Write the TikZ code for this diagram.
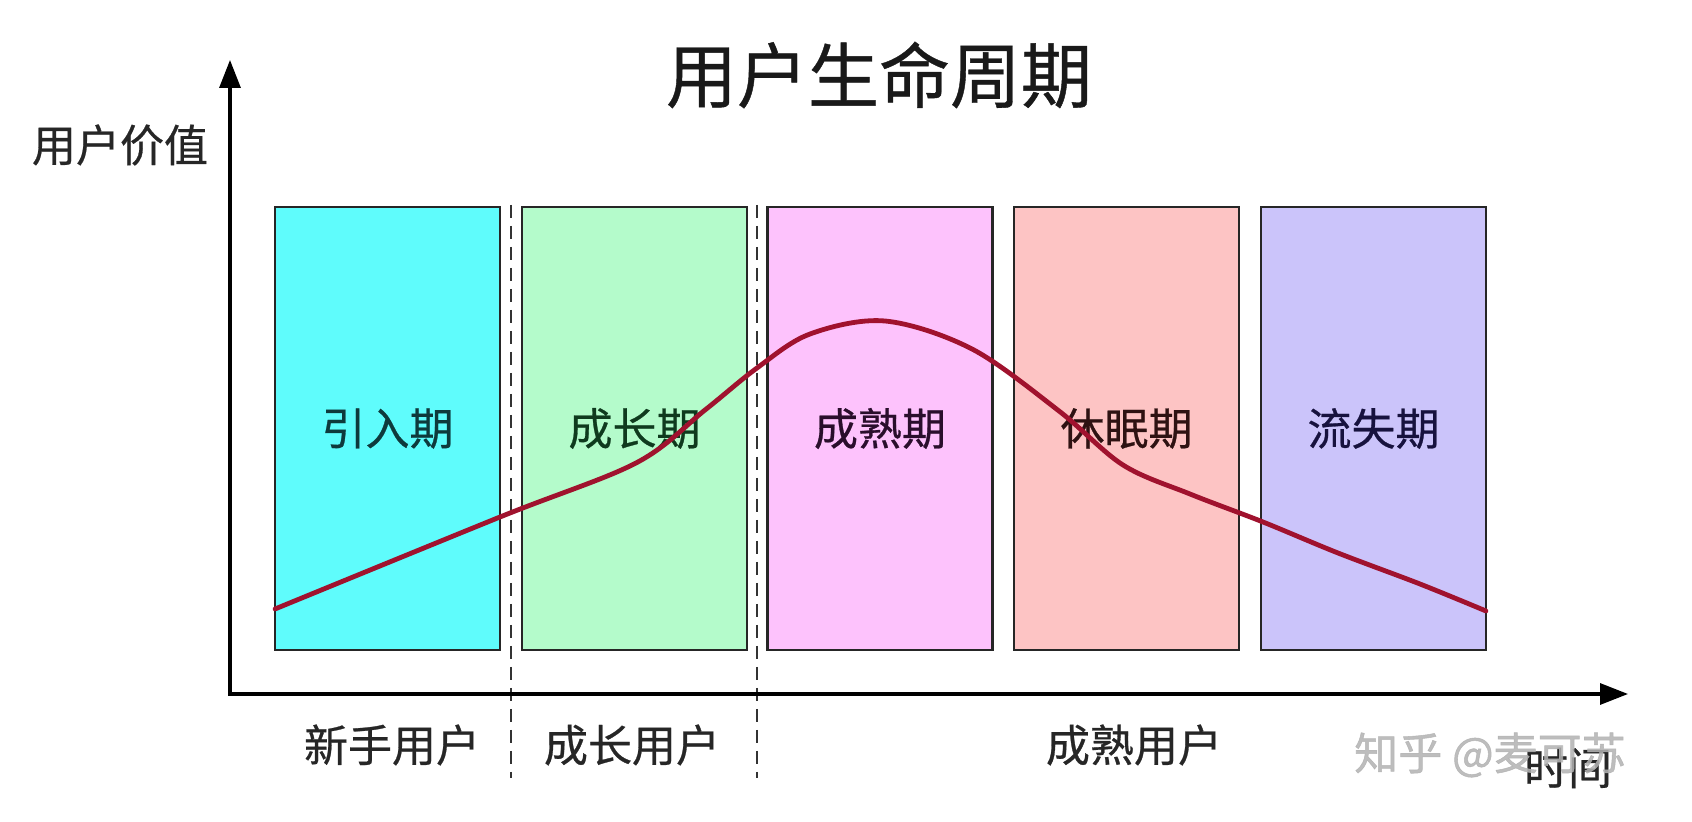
\documentclass[tikz,border=0pt]{standalone}
\usepackage{fontspec}
\setmainfont{Noto Sans CJK SC}[FakeBold=0.6]
\newfontfamily\wmfont{Noto Sans CJK SC}[FakeBold=1.2]
\usetikzlibrary{arrows.meta}
\definecolor{cA}{HTML}{5FFCFC}
\definecolor{cB}{HTML}{B4FBCB}
\definecolor{cC}{HTML}{FDC2FC}
\definecolor{cD}{HTML}{FDC4C4}
\definecolor{cE}{HTML}{CBC4FA}
\definecolor{tA}{HTML}{0E3A3C}
\definecolor{tB}{HTML}{0F3A1E}
\definecolor{tC}{HTML}{2A0E2C}
\definecolor{tD}{HTML}{2E1212}
\definecolor{tE}{HTML}{17123E}
\definecolor{curve}{HTML}{A0122E}
\definecolor{frame}{HTML}{262626}
\tikzset{
  phase/.style={draw=frame, line width=1.4pt, minimum width=112.5pt, minimum height=221.5pt,
    inner sep=0pt, font=\fontsize{22}{24}\selectfont},
  lbl/.style={inner sep=0pt, font=\fontsize{22}{24}\selectfont, text=black!85},
  axis/.style={line width=1.6pt, black, -{Triangle[length=14pt,width=10.5pt]}},
  divider/.style={line width=1.3pt, black!80, dash pattern=on 6.5pt off 4pt},
}
\begin{document}
\begin{tikzpicture}[x=0.5pt,y=-0.5pt]
\useasboundingbox[fill=white] (0,0) rectangle (1692,822);
% title
\node[inner sep=0pt, font=\fontsize{35.5}{38}\selectfont, text=black!90] (title) at (879,75) {用户生命周期};
% phases
\node[phase, fill=cA, text=tA] (p1) at (387.5,428.5) {引入期};
\node[phase, fill=cB, text=tB] (p2) at (634.5,428.5) {成长期};
\node[phase, fill=cC, text=tC] (p3) at (880,428.5) {成熟期};
\node[phase, fill=cD, text=tD] (p4) at (1126.5,428.5) {休眠期};
\node[phase, fill=cE, text=tE] (p5) at (1373.5,428.5) {流失期};
% dividers
\coordinate (d1t) at (511,205); \coordinate (d1b) at (511,778);
\coordinate (d2t) at (757,205); \coordinate (d2b) at (757,778);
\draw[divider] (d1t) -- (d1b);
\draw[divider] (d2t) -- (d2b);
% axes
\coordinate (o) at (228,694);
\coordinate (ytip) at (230,60);
\coordinate (xtip) at (1628,694);
\draw[axis] (o) -- (ytip |- o) -- (ytip);
\draw[axis] (o) -- (xtip);
\node[lbl] (ylab) at (120,145) {用户价值};
\node[lbl] (xlab) at (1568,768) {时间};
% curve
\draw[curve, line width=2.4pt, line cap=round, line join=round]
  plot[smooth, tension=0.55] coordinates {
  (275,609) (500,517) (636,463) (705,410) (757,368) (810,334) (885,321)
  (972,349) (1059,411) (1123,465) (1190,494) (1263,522) (1338,553) (1420,584) (1486,611)};
% bottom labels
\node[lbl] (u1) at (392,745) {新手用户};
\node[lbl] (u2) at (632,745) {成长用户};
\node[lbl] (u3) at (1134,745) {成熟用户};
% watermark
\node[inner sep=0pt, font=\wmfont\fontsize{22}{24}\selectfont, text=black!30, text opacity=0.85] (wm) at (1490,755) {知乎 @麦可苏};
\end{tikzpicture}
\end{document}
